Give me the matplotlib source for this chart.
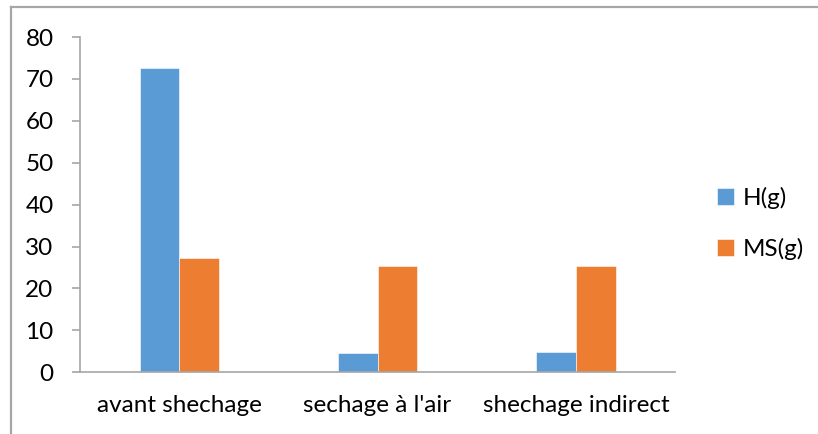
import matplotlib
matplotlib.use("Agg")
import matplotlib.pyplot as plt
import numpy as np

categories = ["avant shechage", "sechage à l'air", "shechage indirect"]
h_values = [72.7, 4.5, 4.8]
ms_values = [27.3, 25.4, 25.4]
series_names = ["H(g)", "MS(g)"]
y_ticks = [0, 10, 20, 30, 40, 50, 60, 70, 80]

plt.rcParams["font.family"] = ["Lato", "DejaVu Sans"]

W, H = 818, 434
fig = plt.figure(figsize=(W / 100, H / 100), dpi=100)
fig.patch.set_facecolor("white")

# outer chart frame (left and top edges)
frame_color = "#a6a6a6"
fig.add_artist(plt.Line2D([10.5 / W, 10.5 / W], [0, 1 - 6.5 / H], transform=fig.transFigure,
                          color=frame_color, lw=1.6))
fig.add_artist(plt.Line2D([10.5 / W, 1], [1 - 6.5 / H, 1 - 6.5 / H], transform=fig.transFigure,
                          color=frame_color, lw=1.6))

left, right = 80 / W, 675 / W
bottom, top = 1 - 372.3 / H, 1 - 37 / H
ax = fig.add_axes([left, bottom, right - left, top - bottom])

x = np.arange(len(categories))
width = 0.2
blue = "#5b9bd5"
orange = "#ed7d31"
b1 = ax.bar(x - width / 2, h_values, width, color=blue, label=series_names[0],
            edgecolor="white", linewidth=0.4)
b2 = ax.bar(x + width / 2, ms_values, width, color=orange, label=series_names[1],
            edgecolor="white", linewidth=0.4)

ax.set_xlim(-0.5, len(categories) - 0.5)
ax.set_ylim(0, 80)
ax.set_yticks(y_ticks)
ax.set_xticks(x)
ax.set_xticklabels(categories)

axis_color = "#a6a6a6"
for side in ("top", "right"):
    ax.spines[side].set_visible(False)
for side in ("left", "bottom"):
    ax.spines[side].set_color(axis_color)
    ax.spines[side].set_linewidth(1.2)

fs = 17.5
ax.tick_params(axis="y", direction="out", length=6, width=1.2, color=axis_color,
               labelsize=fs, pad=13, labelcolor="black")
ax.tick_params(axis="x", length=0, labelsize=fs, pad=16.5, labelcolor="black")

leg = fig.legend(handles=[b1, b2], labels=series_names, loc="center left",
                 bbox_to_anchor=(717 / W, 1 - 223.5 / H), frameon=False,
                 fontsize=fs, handlelength=0.7, handleheight=0.7,
                 handletextpad=0.35, labelspacing=1.2, borderpad=0, borderaxespad=0)

fig.savefig("out.png", dpi=100, facecolor="white")
